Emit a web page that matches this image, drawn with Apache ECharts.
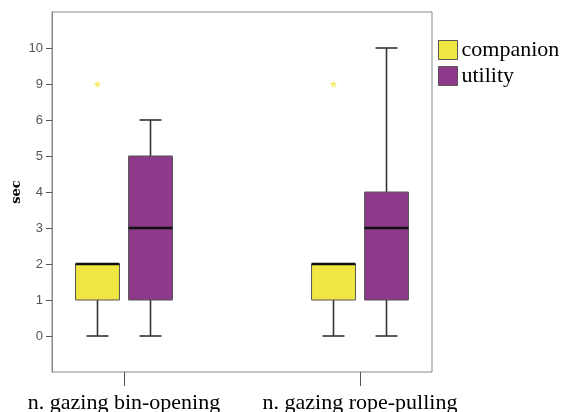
<!DOCTYPE html>
<html>
<head>
<meta charset="utf-8">
<script src="https://cdn.jsdelivr.net/npm/echarts@6/dist/echarts.min.js"></script>
<style>html,body{margin:0;padding:0;background:#fff}#c{width:565px;height:412px}</style>
</head>
<body>
<div id="c"></div>
<script>
// ---- data ----
const categories = ['n. gazing bin-opening', 'n. gazing rope-pulling'];
const yTickLabels = [0, 1, 2, 3, 4, 5, 6, 9, 10]; // axis is drawn with equally spaced ticks
const seriesNames = ['companion', 'utility'];
const companionMin = [0, 0];
const companionQ1 = [1, 1];
const companionMedian = [2, 2];
const companionQ3 = [2, 2];
const companionMax = [2, 2];
const companionOutliers = [9, 9];
const utilityMin = [0, 0];
const utilityQ1 = [1, 1];
const utilityMedian = [3, 3];
const utilityQ3 = [5, 4];
const utilityMax = [6, 10];

// ---- helpers ----
const pos = v => yTickLabels.indexOf(v);
const colors = { companion: '#F2E642', utility: '#8C3A89' };

function boxData(mins, q1s, meds, q3s, maxs) {
  return categories.map((c, i) => [i, pos(mins[i]), pos(q1s[i]), pos(meds[i]), pos(q3s[i]), pos(maxs[i])]);
}

function makeRender(offsetFrac, color) {
  return function (params, api) {
    const cat = api.value(0);
    const band = api.size([1, 0])[0];
    const cx = api.coord([cat, 0])[0] + offsetFrac * band;
    const bw = band * 0.186;
    const capW = bw * 0.5;
    const yMin = api.coord([cat, api.value(1)])[1];
    const yQ1 = api.coord([cat, api.value(2)])[1];
    const yMed = api.coord([cat, api.value(3)])[1];
    const yQ3 = api.coord([cat, api.value(4)])[1];
    const yMax = api.coord([cat, api.value(5)])[1];
    const wStyle = { stroke: '#333', lineWidth: 1.6 };
    return {
      type: 'group',
      children: [
        { type: 'line', shape: { x1: cx, y1: yMin, x2: cx, y2: yQ1 }, style: wStyle },
        { type: 'line', shape: { x1: cx, y1: yQ3, x2: cx, y2: yMax }, style: wStyle },
        { type: 'line', shape: { x1: cx - capW / 2, y1: yMin, x2: cx + capW / 2, y2: yMin }, style: wStyle },
        { type: 'line', shape: { x1: cx - capW / 2, y1: yMax, x2: cx + capW / 2, y2: yMax }, style: wStyle },
        { type: 'rect', shape: { x: cx - bw / 2, y: yQ3, width: bw, height: yQ1 - yQ3 },
          style: { fill: color, stroke: '#555', lineWidth: 1 } },
        { type: 'line', shape: { x1: cx - bw / 2, y1: yMed, x2: cx + bw / 2, y2: yMed },
          style: { stroke: '#111', lineWidth: 2.6 } }
      ]
    };
  };
}

const chart = echarts.init(document.getElementById('c'), null, { renderer: 'canvas' });
const tickVals = yTickLabels.map((v, i) => i);

chart.setOption({
  animation: false,
  backgroundColor: '#fff',
  grid: [
    { left: 52, right: 133, top: 12, bottom: 40, show: true, borderColor: '#888', borderWidth: 1,
      backgroundColor: 'transparent', outerBoundsMode: 'none', containLabel: false },
    { left: 6, right: 87, top: 12, bottom: 40, outerBoundsMode: 'none', containLabel: false }
  ],
  legend: {
    orient: 'vertical',
    left: 438, top: 39, padding: 0,
    itemWidth: 19, itemHeight: 19, itemGap: 4,
    icon: 'rect',
    textStyle: { fontFamily: 'Liberation Serif', fontSize: 22, lineHeight: 19, color: '#000', padding: [0, 0, 0, -1] },
    data: seriesNames.map(n => ({ name: n, itemStyle: { color: colors[n], borderColor: '#555', borderWidth: 1 } })),
    selectedMode: false
  },
  xAxis: [
    { gridIndex: 0, type: 'value', min: 0, max: 1, show: false },
    {
      gridIndex: 1, type: 'category', data: categories, position: 'bottom',
      axisLine: { show: false, onZero: false },
      axisTick: { show: true, interval: 0, alignWithLabel: true, length: 14, lineStyle: { color: '#555', width: 1 } },
      axisLabel: { interval: 0, hideOverlap: false, fontFamily: 'Liberation Serif', fontSize: 22, color: '#000', margin: 20 },
      splitLine: { show: false }
    }
  ],
  yAxis: [
    {
      gridIndex: 0, type: 'value', min: -1, max: 9, interval: 1,
      name: 'sec', nameLocation: 'middle', nameRotate: 90, nameGap: 29, nameMoveOverlap: false,
      nameTextStyle: { fontFamily: 'DejaVu Serif', fontWeight: 'bold', fontSize: 13, color: '#000' },
      axisLine: { show: true, lineStyle: { color: '#888', width: 1 } },
      axisTick: { show: true, length: 6, customValues: tickVals, lineStyle: { color: '#555' } },
      axisLabel: {
        customValues: tickVals, margin: 9,
        fontFamily: 'Liberation Sans', fontSize: 13, color: '#555',
        formatter: v => (v >= 0 && v < yTickLabels.length && Number.isInteger(v)) ? String(yTickLabels[v]) : ''
      },
      splitLine: { show: false }
    },
    { gridIndex: 1, type: 'value', min: -1, max: 9, show: false }
  ],
  series: [
    {
      name: 'companion', type: 'custom', xAxisIndex: 1, yAxisIndex: 1,
      itemStyle: { color: colors.companion },
      renderItem: makeRender(-0.1123, colors.companion),
      encode: { x: 0, y: [1, 2, 3, 4, 5] },
      data: boxData(companionMin, companionQ1, companionMedian, companionQ3, companionMax)
    },
    {
      name: 'utility', type: 'custom', xAxisIndex: 1, yAxisIndex: 1,
      itemStyle: { color: colors.utility },
      renderItem: makeRender(0.1123, colors.utility),
      encode: { x: 0, y: [1, 2, 3, 4, 5] },
      data: boxData(utilityMin, utilityQ1, utilityMedian, utilityQ3, utilityMax)
    },
    {
      name: 'companion', type: 'scatter', xAxisIndex: 1, yAxisIndex: 1,
      symbol: 'path://M50,0 L61,35 L98,35 L68,57 L79,91 L50,70 L21,91 L32,57 L2,35 L39,35 Z',
      symbolSize: 8, symbolOffset: [-26.5, 0],
      itemStyle: { color: '#F3E64A' },
      data: companionOutliers.map((v, i) => [i, pos(v)])
    }
  ]
});
</script>
</body>
</html>
